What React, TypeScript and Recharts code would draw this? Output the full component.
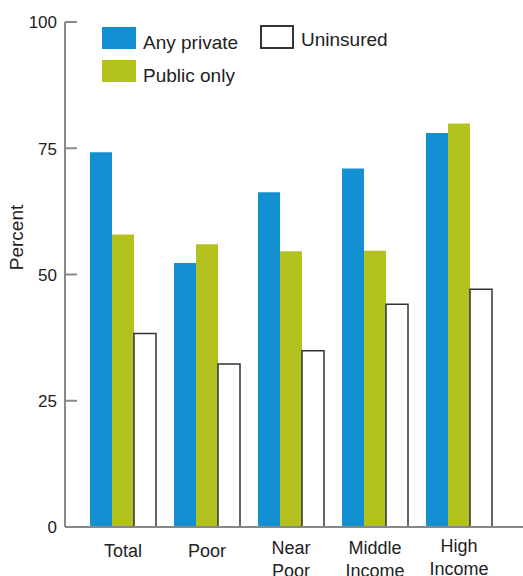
import React from 'react';
import { BarChart, Bar, XAxis, YAxis } from 'recharts';

const categories = ['Total', 'Poor', 'Near Poor', 'Middle Income', 'High Income'];
const categoryLines = [['Total'], ['Poor'], ['Near', 'Poor'], ['Middle', 'Income'], ['High', 'Income']];
const anyPrivate = [74.2, 52.3, 66.3, 71.0, 78.0];
const publicOnly = [57.9, 56.0, 54.6, 54.7, 79.9];
const uninsured = [38.3, 32.3, 34.9, 44.1, 47.1];
const yTicks = [0, 25, 50, 75, 100];

const data = categories.map((c, i) => ({
  name: c,
  anyPrivate: anyPrivate[i],
  publicOnly: publicOnly[i],
  uninsured: uninsured[i],
}));

const FONT = '"Liberation Sans", Arial, Helvetica, sans-serif';
const BLUE = '#1290d2';
const GREEN = '#b4c220';
const TEXT = '#222';

const YTick = (props: any) => {
  const { x, y, payload } = props;
  return (
    <g>
      <line x1={x + 8} x2={x + 20} y1={y} y2={y} stroke="#888" strokeWidth={2} />
      <text x={x} y={y + 2} textAnchor="end" dominantBaseline="middle" fontFamily={FONT} fontSize={17} fill={TEXT}>
        {payload.value}
      </text>
    </g>
  );
};

const XTick = (props: any) => {
  const { x, y, payload, index } = props;
  const lines = categoryLines[index] || [payload.value];
  const oneLine = lines.length === 1;
  const first = oneLine ? 17 : index === 4 ? 12 : 14;
  return (
    <g>
      {lines.map((l: string, i: number) => (
        <text
          key={i}
          x={x}
          y={y + first + i * 23}
          textAnchor="middle"
          dominantBaseline="middle"
          fontFamily={FONT}
          fontSize={18}
          fill={TEXT}
        >
          {l}
        </text>
      ))}
    </g>
  );
};

const LegendItem = ({ left, top, color, label, border, textShift }: any) => (
  <div style={{ position: 'absolute', left, top, display: 'flex', alignItems: 'center' }}>
    <div
      style={{
        width: border ? 30 : 34,
        height: border ? 20 : 22,
        background: color,
        border: border ? `2px solid ${border}` : 'none',
      }}
    />
    <span
      style={{
        marginLeft: 7,
        fontFamily: FONT,
        fontSize: 19,
        color: TEXT,
        whiteSpace: 'nowrap',
        lineHeight: '22px',
        position: 'relative',
        top: textShift,
      }}
    >
      {label}
    </span>
  </div>
);

const PercentLabel = (props: any) => {
  const vb = props.viewBox || { x: 0, y: 0, width: 0, height: 0 };
  const cx = vb.x + 18;
  const cy = vb.y + vb.height / 2 - 37;
  return (
    <text
      x={cx}
      y={cy}
      transform={`rotate(-90, ${cx}, ${cy})`}
      textAnchor="middle"
      dominantBaseline="middle"
      fontFamily={FONT}
      fontSize={19}
      fill={TEXT}
    >
      Percent
    </text>
  );
};

export default function App() {
  return (
    <div style={{ position: 'absolute', left: 0, top: 0, width: 523, height: 576, background: '#fff' }}>
      <BarChart
        width={523}
        height={576}
        data={data}
        margin={{ top: 22, right: 0, bottom: 0, left: 0 }}
        barCategoryGap={9}
        barGap={0}
      >
        <XAxis
          dataKey="name"
          height={49}
          tickLine={false}
          axisLine={{ stroke: '#888', strokeWidth: 2 }}
          padding={{ left: 16, right: 22 }}
          tick={<XTick />}
          interval={0}
        />
        <YAxis
          width={65}
          domain={[0, 100]}
          ticks={yTicks}
          tickSize={0}
          tickMargin={8}
          tickLine={false}
          axisLine={{ stroke: '#888', strokeWidth: 2 }}
          tick={<YTick />}
          label={<PercentLabel />}
        />
        <Bar dataKey="anyPrivate" fill={BLUE} isAnimationActive={false} />
        <Bar dataKey="publicOnly" fill={GREEN} isAnimationActive={false} />
        <Bar dataKey="uninsured" fill="#fff" stroke="#333" strokeWidth={1.5} isAnimationActive={false} />
      </BarChart>
      <LegendItem left={102} top={27} color={BLUE} label="Any private" textShift={5} />
      <LegendItem left={102} top={60} color={GREEN} label="Public only" textShift={5} />
      <LegendItem left={260} top={25} color="#fff" label="Uninsured" border="#333" textShift={3} />
    </div>
  );
}
